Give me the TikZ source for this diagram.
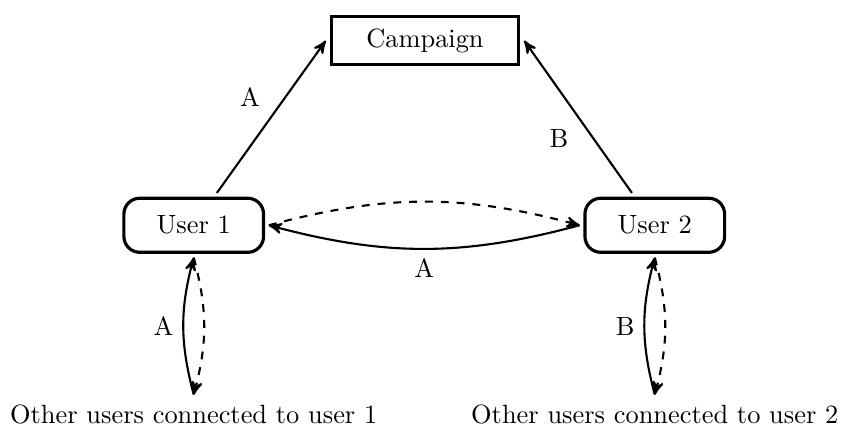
\documentclass[tikz,border=0pt]{standalone}
\usepackage{tikz}
\usetikzlibrary{arrows}
\usetikzlibrary{positioning}

\begin{document}
\begin{tikzpicture}[x=1cm, y=1cm, thick, >=stealth',
    camp box/.style={draw, very thick, minimum width=2.5cm, minimum height=0.64cm, outer sep=2pt},
    user box/.style={draw, very thick, rounded corners=6pt, minimum width=1.86cm, minimum height=0.72cm, outer sep=2pt}]

    \useasboundingbox (0, 0) rectangle (11.24, 5.89);
    \node [camp box] (camp) at (5.66, 5.35) {Campaign};
    \node [user box] (user1) at (2.58, 2.89) {User 1};
    \node [user box] (user2) at (8.72, 2.89) {User 2};
    \node (others1) at (2.58, 0.376) {Other users connected to user 1};
    \node (others2) at (8.72, 0.376) {Other users connected to user 2};

    \draw [->] (user1) -- node [left=6pt, pos=0.63] {A} (camp.west);
    \draw [->] (user2) -- node [left=5.7pt, pos=0.36] {B} (camp.east);
    \draw [->, dashed] (user1.east) to [bend left=15] (user2.west);
    \draw [->] (user2.west) to [bend left=15] node [below] {A} (user1.east);
    \draw [->, dashed] (user1.south) to [bend left=15] (others1.north);
    \draw [->] (others1.north) to [bend left=15] node [left] {A} (user1.south);
    \draw [->, dashed] (user2.south) to [bend left=15] (others2.north);
    \draw [->] (others2.north) to [bend left=15] node [left] {B} (user2.south);

  \end{tikzpicture}
\end{document}
